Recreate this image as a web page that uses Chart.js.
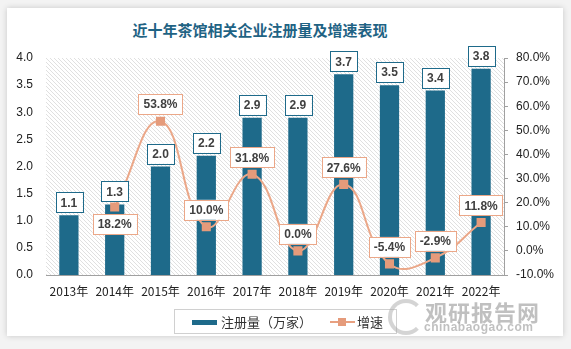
<!DOCTYPE html>
<html lang="zh">
<head>
<meta charset="UTF-8">
<title>近十年茶馆相关企业注册量及增速表现</title>
<style>
    body {
        margin: 0;
        width: 571px;
        height: 349px;
        background: #f3f3f3;
        position: relative;
        overflow: hidden;
        font-family: "Noto Sans CJK SC", sans-serif;
    }
    .card {
        position: absolute;
        left: 7px; top: 8px;
        width: 556px; height: 328px;
        background: #fff;
        box-shadow: 0 0 6px rgba(0, 0, 0, 0.18);
    }
    .title {
        position: absolute;
        left: 0; width: 520px; top: 19px;
        text-align: center;
        font-size: 15px;
        font-weight: bold;
        color: #1f6384;
    }
    .chart-box {
        position: absolute;
        left: 0; top: 0;
        width: 571px; height: 306px;
    }
    .legend {
        position: absolute;
        left: 174px; top: 309px;
        width: 221px; height: 23px;
        border: 1px solid #d0d0d0;
        font-size: 13px;
        color: #333;
    }
    .legend span { position: absolute; top: 2px; }
    .sw-bar { position: absolute; left: 17px; top: 10px; width: 25px; height: 5px; background: #1e6a8a; }
    .sw-line { position: absolute; left: 155px; top: 11px; width: 25px; height: 2px; background: #e8a080; }
    .sw-pt { position: absolute; left: 163px; top: 8px; width: 8px; height: 8px; background: #e59b7b; }
    .wm1 {
        position: absolute; left: 425px; top: 295px;
        font-size: 22px; font-weight: bold; color: rgba(150, 150, 150, 0.6);
        letter-spacing: 1px;
    }
    .wm2 {
        position: absolute; left: 424px; top: 320px;
        font-family: "Liberation Sans", sans-serif;
        font-size: 12px; font-weight: bold; color: rgba(150, 150, 150, 0.6);
        letter-spacing: 0.5px;
    }
    .logo {
        position: absolute; left: 388px; top: 299px;
        width: 28px; height: 28px;
        border: 4px solid rgba(170, 170, 170, 0.5);
        border-radius: 50%;
        border-right-color: transparent;
    }
</style>
</head>
<body>
<div class="card"></div>
<div class="title">近十年茶馆相关企业注册量及增速表现</div>
<div class="chart-box"><canvas id="teaChart" width="571" height="306"></canvas></div>
<div class="legend">
    <div class="sw-bar"></div><span style="left:46px">注册量（万家）</span>
    <div class="sw-line"></div><div class="sw-pt"></div><span style="left:182px">增速</span>
</div>
<div class="logo"></div>
<div class="wm1">观研报告网</div>
<div class="wm2">chinabaogao.com</div>

<script src="https://cdn.jsdelivr.net/npm/chart.js"></script>
<script>
    // data
    const years = ['2013年', '2014年', '2015年', '2016年', '2017年', '2018年', '2019年', '2020年', '2021年', '2022年'];
    const registrations = [1.1, 1.3, 2.0, 2.2, 2.9, 2.9, 3.7, 3.5, 3.4, 3.8];
    const growth = [null, 18.2, 53.8, 10.0, 31.8, 0.0, 27.6, -5.4, -2.9, 11.8];
    const growthLabelBelow = [false, true, false, false, false, false, false, false, false, false];

    const barColor = '#1e6a8a';
    const lineColor = '#eba788';

    function roundBox(ctx, text, cx, cy, border) {
        ctx.font = 'bold 12px "Liberation Sans", sans-serif';
        const w = ctx.measureText(text).width + 10;
        const h = 20;
        ctx.fillStyle = '#fff';
        ctx.fillRect(cx - w / 2, cy - h / 2, w, h);
        ctx.strokeStyle = border;
        ctx.lineWidth = 1;
        ctx.strokeRect(Math.round(cx - w / 2) + 0.5, Math.round(cy - h / 2) + 0.5, Math.round(w), h);
        ctx.fillStyle = '#404040';
        ctx.textAlign = 'center';
        ctx.textBaseline = 'middle';
        ctx.fillText(text, cx, cy + 1);
    }

    // hatched plot background
    const hatchPlugin = {
        id: 'hatch',
        beforeDatasetsDraw(chart) {
            const a = chart.chartArea;
            const p = document.createElement('canvas');
            p.width = 4; p.height = 4;
            const pc = p.getContext('2d');
            pc.strokeStyle = '#e0e0e0';
            pc.lineWidth = 1;
            pc.beginPath();
            pc.moveTo(0, 0); pc.lineTo(4, 4);
            pc.moveTo(-1, 3); pc.lineTo(1, 5);
            pc.moveTo(3, -1); pc.lineTo(5, 1);
            pc.stroke();
            const ctx = chart.ctx;
            ctx.save();
            ctx.fillStyle = ctx.createPattern(p, 'repeat');
            ctx.fillRect(a.left, a.top, a.right - a.left, a.bottom - a.top);
            ctx.restore();
        }
    };

    const labelPlugin = {
        id: 'boxLabels',
        afterDatasetsDraw(chart) {
            const ctx = chart.ctx;
            ctx.save();
            chart.getDatasetMeta(1).data.forEach((el, i) => {
                roundBox(ctx, registrations[i].toFixed(1), el.x, el.y - 13, barColor);
            });
            chart.getDatasetMeta(0).data.forEach((el, i) => {
                if (growth[i] === null) return;
                const dy = growthLabelBelow[i] ? 17 : -17;
                roundBox(ctx, growth[i].toFixed(1) + '%', el.x, el.y + dy, lineColor);
            });
            ctx.restore();
        }
    };

    const ctx = document.getElementById('teaChart').getContext('2d');
    new Chart(ctx, {
        data: {
            labels: years,
            datasets: [{
                type: 'line',
                label: '增速',
                data: growth,
                yAxisID: 'y1',
                borderColor: lineColor,
                borderWidth: 2,
                tension: 0.45,
                pointStyle: 'rect',
                pointRadius: 5,
                pointBackgroundColor: '#e59b7b',
                pointBorderColor: '#e59b7b',
                order: 0
            }, {
                type: 'bar',
                label: '注册量（万家）',
                data: registrations,
                yAxisID: 'y',
                backgroundColor: barColor,
                barPercentage: 0.42,
                categoryPercentage: 1,
                order: 1
            }]
        },
        options: {
            responsive: false,
            animation: false,
            layout: { padding: { top: 58, left: 0, right: 0, bottom: 0 } },
            plugins: { legend: { display: false }, tooltip: { enabled: false } },
            scales: {
                x: {
                    grid: { display: false, drawTicks: false },
                    border: { color: '#a0a0a0' },
                    ticks: { color: '#222', padding: 9, font: { size: 12, family: '"Noto Sans CJK SC", sans-serif' }, maxRotation: 0 },
                    afterFit(s) { s.height = 31; }
                },
                y: {
                    position: 'left',
                    min: 0, max: 4,
                    grid: { display: false, drawTicks: false },
                    border: { display: false },
                    ticks: { stepSize: 0.5, padding: 13, color: '#222', font: { size: 12, family: '"Liberation Sans", sans-serif' },
                        callback: v => v.toFixed(1) },
                    afterFit(s) { s.width = 46; }
                },
                y1: {
                    position: 'right',
                    min: -10, max: 80,
                    grid: { drawOnChartArea: false, drawTicks: true, tickLength: 4, color: '#a0a0a0' },
                    border: { color: '#a0a0a0' },
                    ticks: { stepSize: 10, padding: 8, color: '#222', font: { size: 12, family: '"Liberation Sans", sans-serif' },
                        callback: v => v.toFixed(1) + '%' },
                    afterFit(s) { s.width = 67; }
                }
            }
        },
        plugins: [hatchPlugin, labelPlugin]
    });
</script>
</body>
</html>
